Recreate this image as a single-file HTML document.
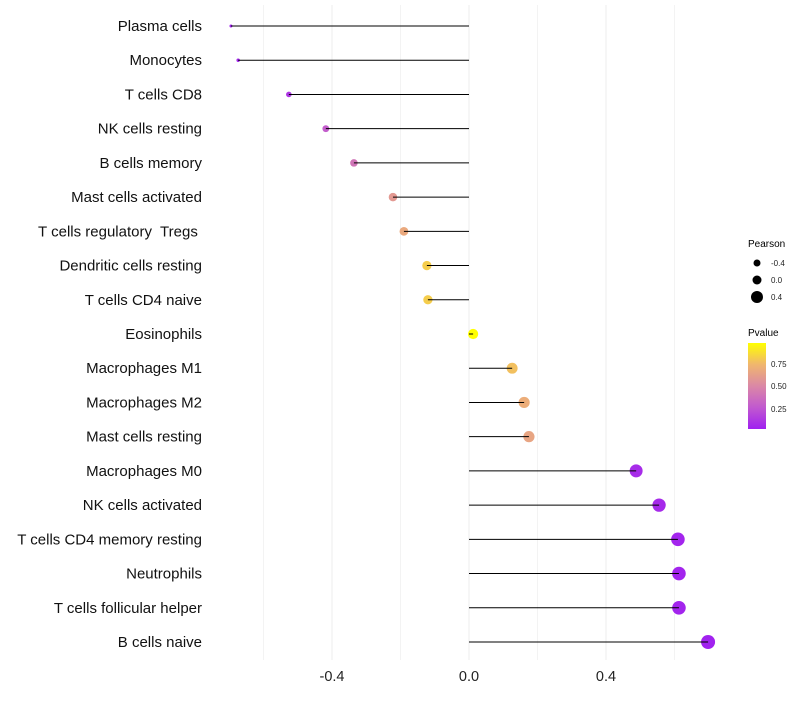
<!DOCTYPE html>
<html><head><meta charset="utf-8"><style>
body{margin:0;background:#fff;font-family:"Liberation Sans",sans-serif}
text{white-space:pre}
</style></head><body>
<svg id="chart" width="800" height="700" xmlns="http://www.w3.org/2000/svg" font-family="Liberation Sans, sans-serif">
<defs><linearGradient id="pg" x1="0" y1="1" x2="0" y2="0">
<stop offset="0" stop-color="#a020f0"/><stop offset="0.25" stop-color="#c159cf"/><stop offset="0.5" stop-color="#db88a6"/><stop offset="0.75" stop-color="#f0b66e"/><stop offset="1" stop-color="#ffff00"/></linearGradient></defs>
<g id="grid"></g>
<g id="marks"></g>
<g id="ylab"></g>
<g id="xlab"></g>
<g>
<text x="748" y="247" font-size="10">Pearson</text>
<circle cx="757" cy="263" r="3.5" fill="#000"/><text x="771" y="266" font-size="8" fill="#222">-0.4</text>
<circle cx="757" cy="280" r="4.5" fill="#000"/><text x="771" y="283" font-size="8" fill="#222">0.0</text>
<circle cx="757" cy="297" r="6" fill="#000"/><text x="771" y="300" font-size="8" fill="#222">0.4</text>
</g>
<g>
<text x="748" y="336" font-size="10">Pvalue</text>
<rect x="748" y="343" width="18" height="86" fill="url(#pg)"/>
<text x="771" y="367" font-size="8" fill="#222">0.75</text>
<text x="771" y="389" font-size="8" fill="#222">0.50</text>
<text x="771" y="412" font-size="8" fill="#222">0.25</text>
</g>
</svg>
<script>
const categories=["Plasma cells","Monocytes","T cells CD8","NK cells resting","B cells memory","Mast cells activated","T cells regulatory  Tregs ","Dendritic cells resting","T cells CD4 naive","Eosinophils","Macrophages M1","Macrophages M2","Mast cells resting","Macrophages M0","NK cells activated","T cells CD4 memory resting","Neutrophils","T cells follicular helper","B cells naive"];
const pearson=[-0.695,-0.674,-0.526,-0.418,-0.336,-0.222,-0.19,-0.123,-0.12,0.012,0.126,0.161,0.175,0.488,0.555,0.61,0.613,0.613,0.698];
const pvalue=[0.04,0.05,0.12,0.28,0.4,0.58,0.66,0.8,0.8,0.97,0.76,0.68,0.64,0.08,0.07,0.05,0.05,0.05,0.04];
const xTicks=[-0.4,0,0.4];
const xTickLabels=["-0.4","0.0","0.4"];
const minorTicks=[-0.6,-0.2,0.2,0.6];
const NS="http://www.w3.org/2000/svg";
const x=v=>469+v*342.5;
const y=i=>26+i*(616/18);
function mk(t,a,p){const e=document.createElementNS(NS,t);for(const k in a)e.setAttribute(k,a[k]);p.appendChild(e);return e;}
const stops=[[0,[160,32,240]],[0.25,[193,89,207]],[0.5,[219,136,166]],[0.75,[240,182,110]],[1,[255,255,0]]];
function col(p){const t=Math.max(0,Math.min(1,(p-0.03)/0.93));for(let i=1;i<stops.length;i++){if(t<=stops[i][0]){const a=stops[i-1],b=stops[i],f=(t-a[0])/(b[0]-a[0]);return 'rgb('+a[1].map((c,j)=>Math.round(c+(b[1][j]-c)*f)).join(',')+')';}}return 'rgb(255,255,0)';}
const g=document.getElementById('grid'),m=document.getElementById('marks'),yl=document.getElementById('ylab'),xl=document.getElementById('xlab');
minorTicks.forEach(v=>{const l=mk('line',{x1:x(v),x2:x(v),y1:5,y2:660,stroke:'#f3f3f3','stroke-width':1},g);});
xTicks.forEach((v,i)=>{const l=mk('line',{x1:x(v),x2:x(v),y1:5,y2:660,stroke:'#eeeeee','stroke-width':1},g);
const t=mk('text',{x:x(v),y:681,'font-size':14.5,'text-anchor':'middle',fill:'#222'},xl);t.textContent=xTickLabels[i];});
categories.forEach((c,i)=>{
const t=mk('text',{x:202,y:y(i)+5,'font-size':15,'text-anchor':'end',fill:'#111'},yl);t.textContent=c;
const r=Math.sqrt(Math.max(1,25.6+33.6*pearson[i]));
const p=mk('circle',{cx:x(pearson[i]),cy:y(i),r:r,fill:col(pvalue[i])},m);
const l=mk('line',{x1:x(0),x2:x(pearson[i]),y1:y(i),y2:y(i),stroke:'#000','stroke-width':1},m);
});
</script>
</body></html>
